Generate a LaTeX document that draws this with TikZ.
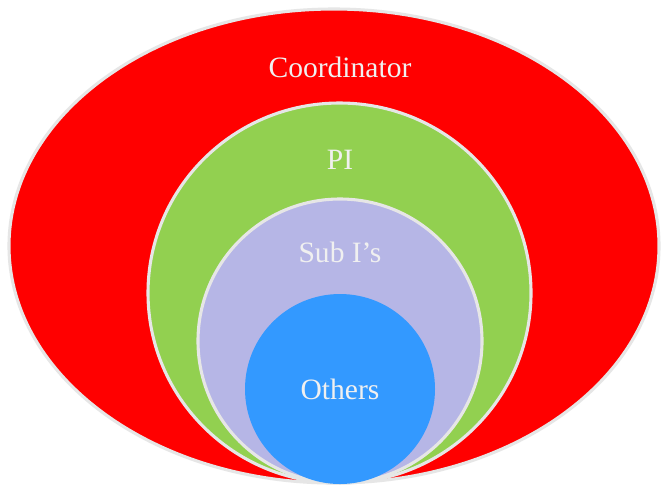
\documentclass[tikz,border=0pt]{standalone}
\usepackage{fontspec}
\setmainfont{Liberation Serif}
\definecolor{coord_red}{HTML}{FF0000}
\definecolor{pi_green}{HTML}{92D050}
\definecolor{sub_lav}{HTML}{B6B6E6}
\definecolor{oth_blue}{HTML}{3399FF}
\definecolor{rim_grey}{HTML}{E6E6E6}
\definecolor{txt_grey}{HTML}{F0F0F0}
\tikzset{
  layer/.style={draw=rim_grey,line width=2.2pt},
  lbl/.style={text=txt_grey,font=\fontsize{21}{25}\selectfont,inner sep=0pt}
}
\begin{document}
\begin{tikzpicture}[x=0.025cm,y=-0.025cm]
    \useasboundingbox (0,0) rectangle (661,489);
    \fill[white] (0,0) rectangle (661,489);
    \filldraw[layer,fill=coord_red] (334,246) ellipse [x radius=325,y radius=237];
    \filldraw[layer,fill=pi_green] (339.5,293) ellipse [x radius=191.5,y radius=190];
    \filldraw[layer,fill=sub_lav] (340,341) ellipse [x radius=142,y radius=142];
    \fill[oth_blue] (340,389) circle [radius=95];
    \node[lbl] (coordinator) at (340,67) {Coordinator};
    \node[lbl] (pi) at (340,160) {PI};
    \node[lbl] (subi) at (340,252) {Sub I’s};
    \node[lbl] (others) at (340,389) {Others};
\end{tikzpicture}
\end{document}
